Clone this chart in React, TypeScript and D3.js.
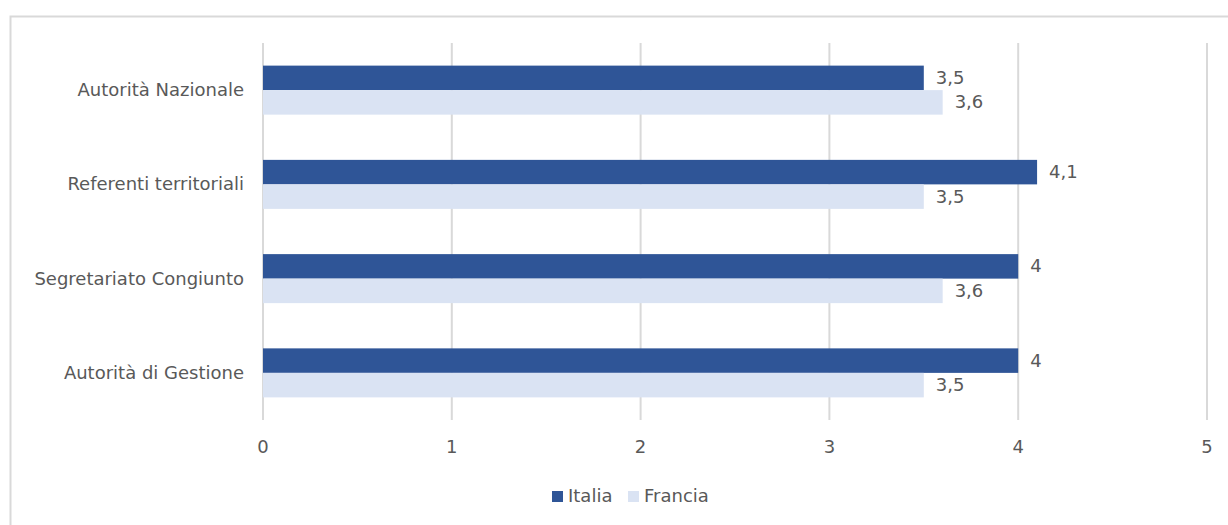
import React from "react";
import * as d3 from "d3";

const categories = ["Autorità Nazionale", "Referenti territoriali", "Segretariato Congiunto", "Autorità di Gestione"];
const italia = [3.5, 4.1, 4, 4];
const francia = [3.6, 3.5, 3.6, 3.5];
const seriesNames = ["Italia", "Francia"];
const xTicks = [0, 1, 2, 3, 4, 5];

const colors = ["#2F5597", "#DAE3F3"];
const font = "'DejaVu Sans', sans-serif";
const textColor = "#595959";
const fs = 18;

export default function App() {
  const W = 1228, H = 525;
  const x = d3.scaleLinear().domain([0, 5]).range([263, 1207]);
  const y = d3.scaleBand().domain(categories).range([43, 420]).paddingInner(0.48).paddingOuter(0.24);
  const inner = d3.scaleBand().domain(seriesNames).range([0, y.bandwidth()]);
  const fmt = (v: number) => String(v).replace(".", ",");
  const series = [italia, francia];

  return (
    <svg width={W} height={H} style={{ position: "absolute", left: 0, top: 0, background: "#fff" }}>
      <rect x={10.5} y={16.5} width={1300} height={600} fill="none" stroke="#d9d9d9" strokeWidth={2} />
      {xTicks.map((t) => (
        <g key={t}>
          <line x1={x(t)} x2={x(t)} y1={43} y2={420} stroke="#d9d9d9" strokeWidth={2} />
          <text x={x(t)} y={448} textAnchor="middle" dominantBaseline="middle" fontFamily={font} fontSize={fs} fill={textColor}>
            {t}
          </text>
        </g>
      ))}
      {categories.map((c, i) => (
        <g key={c}>
          <text x={244} y={(y(c) as number) + y.bandwidth() / 2 + 1} textAnchor="end" dominantBaseline="middle" fontFamily={font} fontSize={fs} fill={textColor}>
            {c}
          </text>
          {series.map((s, j) => {
            const yy = (y(c) as number) + (inner(seriesNames[j]) as number);
            return (
              <g key={j}>
                <rect x={x(0)} y={yy} width={x(s[i]) - x(0)} height={inner.bandwidth()} fill={colors[j]} />
                <text x={x(s[i]) + 12} y={yy + inner.bandwidth() / 2 + 1} dominantBaseline="middle" fontFamily={font} fontSize={fs} fill={textColor}>
                  {fmt(s[i])}
                </text>
              </g>
            );
          })}
        </g>
      ))}
      <g>
        <rect x={552} y={491} width={11} height={11} fill={colors[0]} />
        <text x={568} y={497} dominantBaseline="middle" fontFamily={font} fontSize={fs} fill={textColor}>Italia</text>
        <rect x={628} y={491} width={11} height={11} fill={colors[1]} />
        <text x={644} y={497} dominantBaseline="middle" fontFamily={font} fontSize={fs} fill={textColor}>Francia</text>
      </g>
    </svg>
  );
}
